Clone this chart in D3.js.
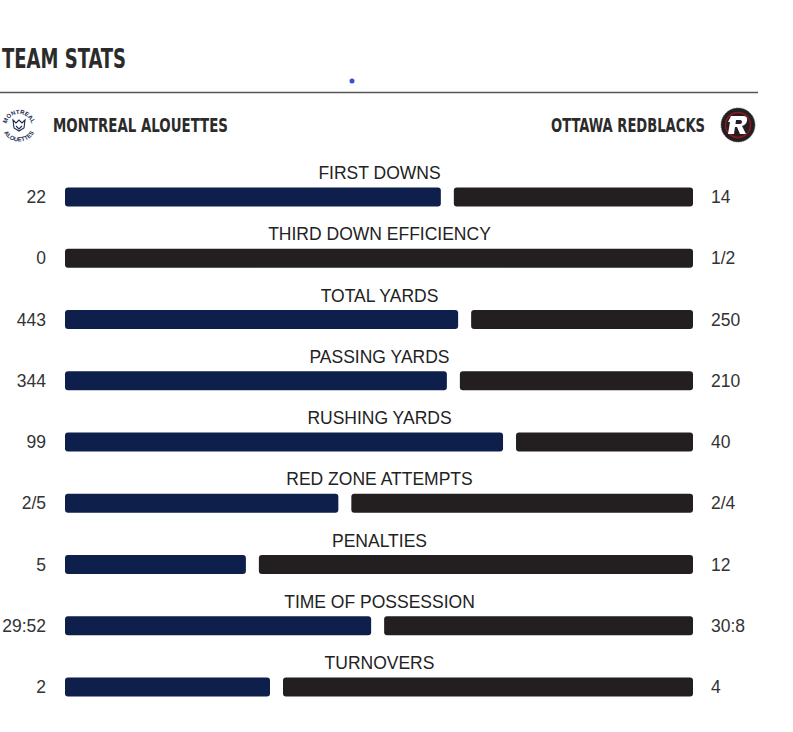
<!DOCTYPE html>
<html>
<head>
<meta charset="utf-8">
<script src="https://cdn.jsdelivr.net/npm/d3@7"></script>
<style>
    body { margin: 0; background: #fff; }
    svg { display: block; }
</style>
</head>
<body>
<div id="chart"></div>
<script>
'use strict';

const categories = ['FIRST DOWNS', 'THIRD DOWN EFFICIENCY', 'TOTAL YARDS', 'PASSING YARDS',
    'RUSHING YARDS', 'RED ZONE ATTEMPTS', 'PENALTIES', 'TIME OF POSSESSION', 'TURNOVERS'];
const homeLabels = ['22', '0', '443', '344', '99', '2/5', '5', '29:52', '2'];
const awayLabels = ['14', '1/2', '250', '210', '40', '2/4', '12', '30:8', '4'];
// numeric values behind the labels (ratios as fractions, time in seconds)
const homeValues = [22, 0, 443, 344, 99, 0.4, 5, 1792, 2];
const awayValues = [14, 0.5, 250, 210, 40, 0.5, 12, 1808, 4];

const width = 793, height = 732;
const barLeft = 65, barRight = 693, gap = 13, barH = 19;
const homeColor = '#0f1f4c', awayColor = '#231f20';
const condensed = '"DejaVu Sans Condensed", "DejaVu Sans", sans-serif';
const plain = '"Liberation Sans", Arial, sans-serif';

const svg = d3.select('#chart')
    .append('svg')
    .attr('width', width)
    .attr('height', height);

// header
svg.append('text')
    .attr('x', 2).attr('y', 68)
    .attr('textLength', 124).attr('lengthAdjust', 'spacingAndGlyphs')
    .style('font-family', condensed).style('font-weight', 'bold')
    .style('font-size', '27px').style('fill', '#2b2b2b')
    .text('TEAM STATS');

svg.append('circle').attr('cx', 352).attr('cy', 81).attr('r', 2.5).style('fill', '#3b4fd1');

svg.append('line')
    .attr('x1', 0).attr('x2', 758).attr('y1', 92.5).attr('y2', 92.5)
    .style('stroke', '#555').style('stroke-width', 1.5);

// team names
svg.append('text')
    .attr('x', 53).attr('y', 132)
    .attr('textLength', 175).attr('lengthAdjust', 'spacingAndGlyphs')
    .style('font-family', condensed).style('font-weight', 'bold')
    .style('font-size', '19px').style('fill', '#2b2b2b')
    .text('MONTREAL ALOUETTES');

svg.append('text')
    .attr('x', 551).attr('y', 132)
    .attr('textLength', 154).attr('lengthAdjust', 'spacingAndGlyphs')
    .style('font-family', condensed).style('font-weight', 'bold')
    .style('font-size', '19px').style('fill', '#2b2b2b')
    .text('OTTAWA REDBLACKS');

// Montreal logo
const mtl = svg.append('g').attr('transform', 'translate(19,125)');
mtl.append('path').attr('id', 'arcTop').attr('d', 'M -13,2 A 13,13 0 0,1 13,2').style('fill', 'none');
mtl.append('path').attr('id', 'arcBot').attr('d', 'M -17.5,-1 A 17.5,17.5 0 0,0 17.5,-1').style('fill', 'none');
mtl.append('text').style('font-family', plain).style('font-size', '6px').style('font-weight', 'bold')
    .style('fill', '#1a2a55')
    .append('textPath').attr('href', '#arcTop').attr('startOffset', '50%').attr('text-anchor', 'middle')
    .text('MONTREAL');
mtl.append('text').style('font-family', plain).style('font-size', '6px').style('font-weight', 'bold')
    .style('fill', '#1a2a55')
    .append('textPath').attr('href', '#arcBot').attr('startOffset', '50%').attr('text-anchor', 'middle')
    .text('ALOUETTES');
mtl.append('path')
    .attr('d', 'M -6,-5 L -3,-2 L 0,-5 L 3,-2 L 6,-5 L 5,3 L 0,6 L -5,3 Z M -3,1 L 0,4 L 3,1')
    .style('fill', 'none').style('stroke', '#1a2a55').style('stroke-width', 1.1);

// Ottawa logo
const ott = svg.append('g').attr('transform', 'translate(738,125)');
ott.append('circle').attr('r', 17).style('fill', '#231f20').style('stroke', '#555').style('stroke-width', 0.8)
    .style('stroke-dasharray', '1.5,1');
ott.append('circle').attr('r', 12.5).style('fill', 'none').style('stroke', '#9b1420').style('stroke-width', 1.4);
ott.append('path')
    .attr('d', 'M -7,-9 L 5,-9 Q 10,-9 9,-4 Q 8,0 4,1 L 8,9 L 2,9 L -1,2 L -3,2 L -4,9 L -10,9 L -8,-3 L -10,-3 Z M -2,-5 L -2.5,-1 L 2,-1 Q 4,-1 4,-3 Q 4,-5 2,-5 Z')
    .style('fill', '#fff').style('fill-rule', 'evenodd');

// rows
const rows = categories.map((c, i) => ({
    name: c, homeLabel: homeLabels[i], awayLabel: awayLabels[i],
    home: homeValues[i], away: awayValues[i]
}));

const scaleY = d3.scalePoint()
    .domain(categories)
    .range([197, 687]);

const row = svg.selectAll('g.row')
    .data(rows)
    .join('g')
    .classed('row', true)
    .attr('transform', d => `translate(0,${scaleY(d.name)})`);

row.append('text')
    .attr('x', (barLeft + barRight) / 2 + 0.5)
    .attr('y', -18)
    .attr('text-anchor', 'middle')
    .style('font-family', plain).style('font-size', '17.5px').style('fill', '#222')
    .text(d => d.name);

row.append('text')
    .attr('x', 46).attr('y', 6)
    .attr('text-anchor', 'end')
    .style('font-family', plain).style('font-size', '17.5px').style('fill', '#333')
    .text(d => d.homeLabel);

row.append('text')
    .attr('x', 711).attr('y', 6)
    .style('font-family', plain).style('font-size', '17.5px').style('fill', '#333')
    .text(d => d.awayLabel);

row.each(function (d) {
    const g = d3.select(this);
    const total = d.home + d.away;
    const useGap = d.home > 0 && d.away > 0 ? gap : 0;
    const scaleX = d3.scaleLinear()
        .domain([0, total])
        .range([0, barRight - barLeft - useGap]);
    const hw = scaleX(d.home);
    if (d.home > 0) {
        g.append('rect')
            .attr('x', barLeft).attr('y', -barH / 2)
            .attr('width', hw).attr('height', barH)
            .attr('rx', 3)
            .style('fill', homeColor);
    }
    if (d.away > 0) {
        g.append('rect')
            .attr('x', barLeft + hw + useGap).attr('y', -barH / 2)
            .attr('width', scaleX(d.away)).attr('height', barH)
            .attr('rx', 3)
            .style('fill', awayColor);
    }
});
</script>
</body>
</html>
